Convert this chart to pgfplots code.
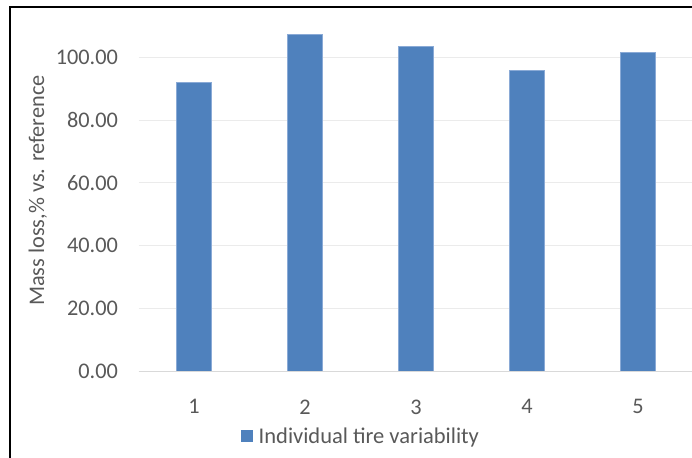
\documentclass[border=0pt]{standalone}
\usepackage{pgfplots}
\pgfplotsset{compat=1.18}
\usepackage{fontspec}
\setmainfont{Carlito}
\definecolor{barblue}{HTML}{4F81BD}
\definecolor{baredge}{HTML}{8AAAD6}
\definecolor{txtgray}{HTML}{595959}
\definecolor{gridgray}{HTML}{EBEBEB}
\definecolor{axgray}{HTML}{D9D9D9}
\begin{document}
\begin{tikzpicture}[x=1pt,y=1pt]
\useasboundingbox (0,0) rectangle (692,457);
\fill[white] (0,0) rectangle (692,457);
\draw[black, line width=2pt] (9.5,-5) -- (9.5,450) -- (700,450);
\begin{axis}[
  at={(138.5pt,86pt)}, anchor=origin,
  scale only axis, width=555pt, height=360.8pt,
  xmin=0.5, xmax=5.5, ymin=0, ymax=115,
  axis line style={draw=none},
  tick style={draw=none},
  xtick={1,2,3,4,5},
  ytick={0,20,40,60,80,100},
  ymajorgrids, grid style={gridgray, line width=0.8pt},
  extra y ticks={0}, extra y tick labels={},
  extra y tick style={grid style={axgray, line width=0.8pt}},
  font=\fontsize{22.3}{26}\selectfont\color{txtgray},
  /pgf/number format/assume math mode=true,
  yticklabel style={/pgf/number format/fixed, /pgf/number format/fixed zerofill, /pgf/number format/precision=2, xshift=-17pt},
  xticklabel style={yshift=-25pt},
  ylabel={Mass loss,\% vs. reference},
  every axis y label/.append style={at={(ticklabel cs:0.5)}, yshift=2pt},
  legend style={at={(0.401,-0.180)}, anchor=center, draw=none, fill=none,
    font=\fontsize{22.5}{26}\selectfont\color{txtgray}},
  legend image code/.code={\fill[barblue] (0pt,-5.5pt) rectangle (11pt,5.5pt); \path (15pt,0pt);},
]
\addplot[ybar, bar width=35pt, bar shift=0pt, fill=barblue, draw=baredge, line width=0.6pt]
  coordinates {(1,92.0) (2,107.3) (3,103.5) (4,95.7) (5,101.6)};
\addlegendentry{Individual tire variability}
\end{axis}
\end{tikzpicture}
\end{document}
